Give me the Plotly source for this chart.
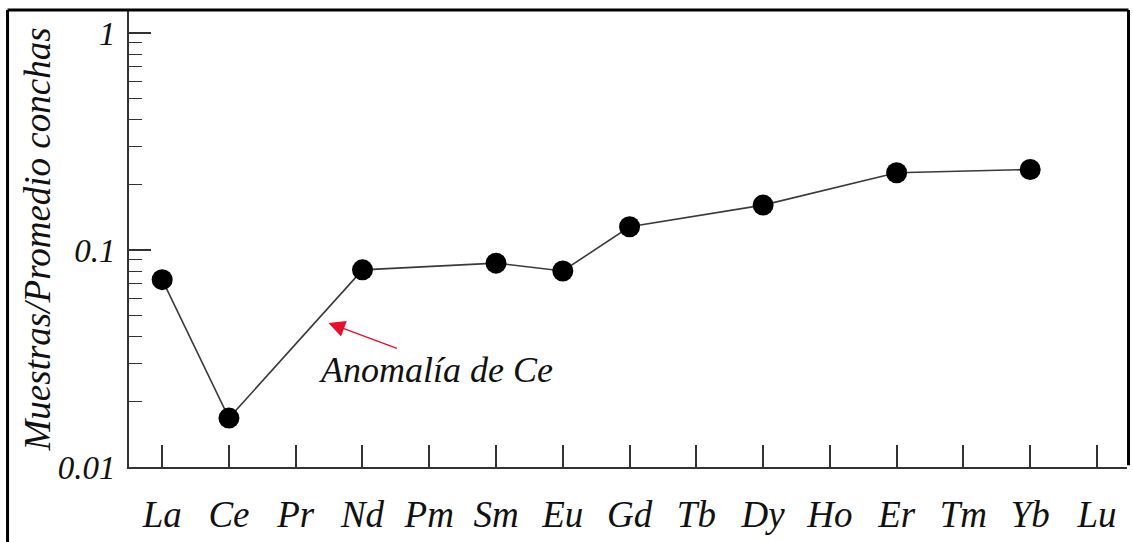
import plotly.graph_objects as go

# Rare earth elements on the horizontal axis (full series, in order)
elements = ["La", "Ce", "Pr", "Nd", "Pm", "Sm", "Eu", "Gd", "Tb", "Dy", "Ho", "Er", "Tm", "Yb", "Lu"]

# Measured elements and their normalised values (sample / shell average)
sample_elements = ["La", "Ce", "Nd", "Sm", "Eu", "Gd", "Dy", "Er", "Yb"]
sample_values = [0.073, 0.0168, 0.081, 0.087, 0.080, 0.128, 0.161, 0.227, 0.235]

y_major = [0.01, 0.1, 1]
y_major_text = ["0.01", "0.1", "1"]
y_minor = [m * d for d in (0.01, 0.1) for m in range(2, 10)] + [0.9]

FONT = "'Liberation Serif', 'Times New Roman', serif"
AX = "#333333"

fig = go.Figure()
fig.add_trace(go.Scatter(
    x=sample_elements, y=sample_values, mode="lines+markers",
    line=dict(color="#3a3a3a", width=1.6),
    marker=dict(color="black", size=21),
    cliponaxis=False, showlegend=False,
))

fig.update_layout(
    width=1133, height=542,
    margin=dict(l=128.5, r=6, t=10, b=75),
    paper_bgcolor="white", plot_bgcolor="white",
    font=dict(family=FONT, style="italic", color="#111"),
    xaxis=dict(
        type="category", categoryorder="array", categoryarray=elements,
        tickvals=elements, range=[-0.497, 14.45],
        showline=True, linecolor=AX, linewidth=1.6, mirror=False,
        ticks="inside", ticklen=22, tickwidth=1.5, tickcolor=AX,
        showgrid=False, zeroline=False,
        tickfont=dict(family=FONT, style="italic", size=37, color="#111"),
        ticklabelstandoff=14,
    ),
    yaxis=dict(
        type="log", range=[-2, 0.106],
        tickvals=y_major, ticktext=y_major_text,
        showline=True, linecolor=AX, linewidth=1.6,
        ticks="inside", ticklen=22, tickwidth=1.5, tickcolor=AX,
        minor=dict(tickvals=y_minor, ticks="inside", ticklen=13, tickwidth=1.3, tickcolor=AX, showgrid=False),
        showgrid=False, zeroline=False,
        tickfont=dict(family=FONT, style="italic", size=33, color="#111"),
        ticklabelstandoff=5,
    ),
)

# Axis title
fig.add_annotation(
    text="Muestras/Promedio conchas", textangle=-90,
    xref="paper", yref="paper", x=-0.0916, y=0.497,
    xanchor="center", yanchor="middle", showarrow=False,
    font=dict(family=FONT, style="italic", size=37, color="#111"),
)

# Ce anomaly callout: arrow and its label
fig.add_annotation(
    text="", x=2.49, y=-1.336, xref="x", yref="y",
    showarrow=True, arrowhead=2, arrowsize=2.2, arrowwidth=1.5, arrowcolor="#e8102a",
    ax=70, ay=26, standoff=0,
)
fig.add_annotation(
    text="Anomalía de Ce", x=4.107, y=-1.553, xref="x", yref="y",
    showarrow=False, xanchor="center", yanchor="middle",
    font=dict(family=FONT, style="italic", size=36, color="#111"),
)

# Outer frame
frame = dict(color="black", width=3)
fig.add_shape(type="line", xref="paper", yref="paper", x0=-0.1217, x1=-0.1217, y0=1.0, y1=-0.2, line=frame)
fig.add_shape(type="line", xref="paper", yref="paper", x0=-0.1217, x1=1.0015, y0=1.0, y1=1.0, line=frame)
fig.add_shape(type="line", xref="paper", yref="paper", x0=1.0015, x1=1.0015, y0=1.0, y1=0.004, line=frame)

fig.write_html("out.html")
